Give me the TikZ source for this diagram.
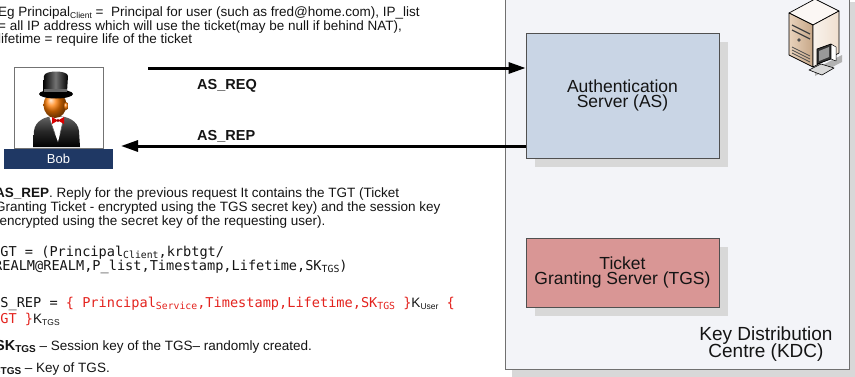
\documentclass[tikz,border=0pt]{standalone}
\usepackage{fontspec}
\setmainfont{Liberation Sans}
\newfontfamily\codefont{DejaVu Sans Mono}
\usetikzlibrary{arrows.meta}

\definecolor{kdcfill}{HTML}{F3F4F8}
\definecolor{kdcline}{HTML}{707070}
\definecolor{shadowgray}{HTML}{D8D8D8}
\definecolor{asfill}{HTML}{C9D5E5}
\definecolor{tgsfill}{HTML}{D99695}
\definecolor{boxline}{HTML}{505050}
\definecolor{bobbar}{HTML}{1F3864}
\definecolor{keyred}{HTML}{E3231E}
\definecolor{inktext}{HTML}{141414}

% small lowered index text
\newcommand\lowsub[1]{\raisebox{-0.3ex}{\fontsize{8.5}{9}\selectfont #1}}
\newcommand\lowsubc[1]{\raisebox{-0.3ex}{\fontsize{9.8}{10}\selectfont #1}}
\newcommand\lowsubb[1]{\raisebox{-0.35ex}{\fontsize{10}{10}\selectfont\bfseries #1}}

\begin{document}
\begin{tikzpicture}[x=1pt,y=-1pt,
  txt/.style={anchor=base west, inner sep=0pt, text=inktext, font=\fontsize{13.5}{14}\selectfont},
  code/.style={anchor=base west, inner sep=0pt, text=inktext, font=\codefont\fontsize{13.6}{14}\selectfont},
  msglabel/.style={anchor=base west, inner sep=0pt, text=inktext, font=\fontsize{14.5}{15}\selectfont\bfseries},
  server/.style={draw=boxline, line width=0.8pt, minimum width=193pt, align=center, inner sep=0pt,
                 text=inktext, font=\fontsize{17.5}{17.5}\selectfont},
  kdctext/.style={anchor=base, inner sep=0pt, text=inktext, font=\fontsize{19}{19}\selectfont},
  flow/.style={line width=3pt, -{Triangle[length=17pt,width=11pt]}}
]
\useasboundingbox (0,0) rectangle (855,376);
\clip (0,0) rectangle (855,376);

% ---------- Key Distribution Centre ----------
\fill[shadowgray] (512,2) rectangle (857,377);
\node[draw=kdcline, fill=kdcfill, line width=0.8pt, inner sep=0pt,
      minimum width=344pt, minimum height=379pt] (kdc) at (677,179.5) {};
\node[kdctext] (kdc1) at (766,340) {Key Distribution};
\node[kdctext] (kdc2) at (766,357.5) {Centre (KDC)};

% ---------- servers ----------
\fill[shadowgray] (535,42) rectangle (728,167);
\node[server, fill=asfill, minimum height=125pt] (as) at (622.5,95.5)
  {\raisebox{2pt}{\shortstack{Authentication\\[-1pt]Server (AS)}}};
\fill[shadowgray] (535,247) rectangle (728,316);
\node[server, fill=tgsfill, minimum height=69pt] (tgs) at (622.5,272.5)
  {\shortstack{Ticket\\[-1pt]Granting Server (TGS)}};

% ---------- server tower icon ----------
\begin{scope}[line join=round, line width=0.7pt]
  \fill[black!30] (815,69) -- (842,55) -- (842,62) -- (815,76) -- cycle;
  \filldraw[fill=white!85!brown!40, draw=black] (789,13) -- (815,-1) -- (839,11) -- (813,25) -- cycle;
  \shade[left color=brown!35!white, right color=brown!55!white!90!black, draw=black]
    (789,13) -- (813,25) -- (813,67) -- (789,55) -- cycle;
  \shade[left color=white!90!brown, right color=brown!25!white, draw=black]
    (813,25) -- (839,11) -- (839,53) -- (813,67) -- cycle;
  \draw[black!75, line width=1.2pt] (792,25) -- (810,34);
  \draw[black!75, line width=1.2pt] (792,30) -- (810,39);
  \fill[black!70] (799,40) circle (1.8);
  \draw[black!70, line width=0.8pt] (792,47) -- (810,56) (792,50) -- (810,59) (792,53) -- (810,62);
  % small workstation in front
  \filldraw[fill=black!15, draw=black, line width=0.6pt] (809,70) -- (821,64) -- (834,68) -- (822,75) -- cycle;
  \filldraw[fill=black!80, draw=black] (817,49) -- (831,44) -- (831,59) -- (817,64) -- cycle;
  \fill[black!40] (819,51) -- (829,47) -- (829,57) -- (819,61) -- cycle;
  \filldraw[fill=white, draw=black, line width=0.5pt] (831,44) -- (836,47) -- (836,61) -- (831,59) -- cycle;
\end{scope}

% ---------- Bob ----------
\node[draw=black!55, fill=white, line width=0.8pt, inner sep=0pt,
      minimum width=89pt, minimum height=81pt] (bobpic) at (58.5,107.5) {};
\node[fill=bobbar, inner sep=0pt, minimum width=109pt, minimum height=20pt,
      text=white, font=\fontsize{13}{13}\selectfont] (bob) at (58.5,159) {Bob};
\begin{scope}
  % suit
  \shade[top color=black!60, bottom color=black, middle color=black!85]
    (33,147) -- (34,131) .. controls (35,121) and (45,116) .. (56,116)
    .. controls (68,116) and (78,121) .. (79,131) -- (80,147) -- cycle;
  \fill[white] (49,117) -- (64,117) -- (58,142) -- cycle;
  \draw[black!60, line width=0.6pt] (49,117) -- (55,134) (64,117) -- (60,134);
  % face
  \shade[ball color=orange!85!red!90!yellow] (55,105) ellipse [x radius=11.5, y radius=13];
  \shade[ball color=orange!85!red!90!yellow] (66,106) ellipse [x radius=2.5, y radius=4];
  % hat
  \shade[left color=black, right color=black, middle color=black!55]
    (43,92) -- (44,76) .. controls (44,70) and (68,70) .. (68,76) -- (67,92) -- cycle;
  \fill[black] (56,94) ellipse [x radius=17, y radius=4.5];
  \fill[black!60] (44,89) rectangle (67,91.5);
  % bow tie
  \fill[red!85!black] (52,117) -- (58,120.5) -- (52,124) -- cycle;
  \fill[red!85!black] (64,117) -- (58,120.5) -- (64,124) -- cycle;
  \fill[red!60!black] (58,120.5) circle (1.6);
\end{scope}

% ---------- messages ----------
\coordinate (reqstart) at (148,68);
\draw[flow] (reqstart) -- (reqstart -| as.west);
\coordinate (repend) at (121,146);
\draw[flow] (as.west |- repend) -- (repend);
\node[msglabel] (reqlbl) at (197,89) {AS\_REQ};
\node[msglabel] (replbl) at (197,140) {AS\_REP};

% ---------- notes on the request ----------
\node[txt] (n1) at (-2,16) {Eg Principal\lowsub{Client} =\ \ Principal for user (such as fred@home.com), IP\_list};
\node[txt] (n2) at (-2,30) {= all IP address which will use the ticket(may be null if behind NAT),};
\node[txt] (n3) at (-2,43) {lifetime = require life of the ticket};

% ---------- notes on the reply ----------
\node[txt] (r1) at (-5,197) {\textbf{AS\_REP}. Reply for the previous request It contains the TGT (Ticket};
\node[txt] (r2) at (-5,211) {Granting Ticket - encrypted using the TGS secret key) and the session key};
\node[txt] (r3) at (-5,225) {(encrypted using the secret key of the requesting user).};

\node[code] (c1) at (-8,256) {TGT = (Principal\lowsubc{Client},krbtgt/};
\node[code] (c2) at (-6,270) {REALM@REALM,P\_list,Timestamp,Lifetime,SK\lowsubc{TGS})};
\node[code] (c3) at (-8,307) {AS\_REP = {\color{keyred}\{ Principal\lowsubc{Service},Timestamp,Lifetime,SK\lowsubc{TGS} \}}{\rmfamily K\lowsub{User}} {\color{keyred}\{}};
\node[code] (c4) at (-8,323) {{\color{keyred}TGT \}}{\rmfamily K\lowsub{TGS}}};

\node[txt] (k1) at (-5,350) {{\fontsize{14.5}{15}\selectfont\bfseries SK}\lowsubb{TGS} -- Session key of the TGS-- randomly created.};
\node[txt] (k2) at (-10,372) {{\fontsize{14.5}{15}\selectfont\bfseries K}\lowsubb{TGS} -- Key of TGS.};
\end{tikzpicture}
\end{document}
